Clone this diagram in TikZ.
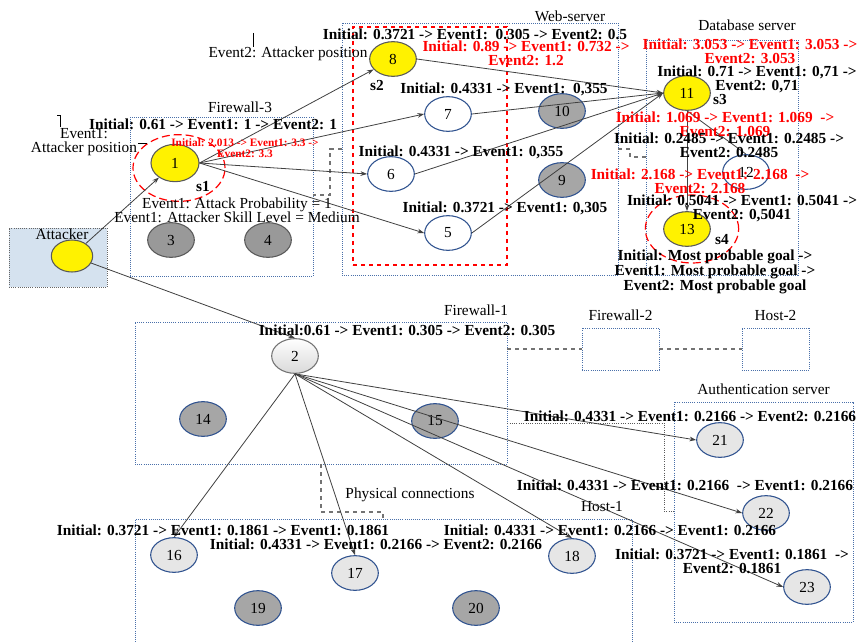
\documentclass[tikz,border=0pt]{standalone}
\usepackage{fontspec}
\setmainfont{Liberation Serif}
\usetikzlibrary{shapes,arrows.meta,fit,positioning}

\definecolor{boxblue}{HTML}{4A70AA}
\definecolor{nodeblue}{HTML}{2F528F}
\definecolor{hostgray}{HTML}{A6A6A6}
\definecolor{palegray}{HTML}{E6E6E6}
\definecolor{edgegray}{HTML}{404040}
\definecolor{attackerblue}{HTML}{D5E2EF}

\begin{document}
\begin{tikzpicture}[
	x=0.75pt, y=-0.75pt,
	>={Stealth[length=5pt,width=3.5pt]},
	basenode/.style={ellipse, inner sep=0pt, line width=0.8pt, minimum width=35pt, minimum height=26pt, font=\fontsize{11.5}{12}\selectfont},
	goalnode/.style={basenode, draw=black!65, fill=yellow},
	opennode/.style={basenode, draw=nodeblue, fill=white},
	darknode/.style={basenode, draw=nodeblue, fill=hostgray},
	idlenode/.style={basenode, draw=black!65, fill=black!40},
	lightnode/.style={basenode, draw=nodeblue, fill=palegray},
	gatenode/.style={basenode, draw=black!55, top color=white, bottom color=black!15},
	zonebox/.style={draw=boxblue, densely dotted, line width=0.6pt, inner sep=0pt},
	aimring/.style={ellipse, draw=red, dash pattern=on 6pt off 3pt, line width=0.9pt, inner sep=0pt},
	zonetitle/.style={inner sep=0pt, font=\fontsize{11.5}{12}\selectfont},
	notelabel/.style={inner sep=0pt, align=center, font=\fontsize{11.5}{10.5}\selectfont},
	problabel/.style={inner sep=0pt, align=center, font=\bfseries\fontsize{11.5}{10.5}\selectfont},
	redlabel/.style={problabel, text=red},
	tinyred/.style={inner sep=0pt, align=center, text=red, font=\bfseries\fontsize{8.5}{8}\selectfont},
	flow/.style={->, draw=edgegray, line width=0.6pt},
	physlink/.style={draw=black!55, dashed, line width=0.8pt},
	dotlink/.style={draw=black!65, densely dotted, line width=0.7pt},
	]
	\clip (0,0) rectangle (860,642);

	%Zones
	\node[zonebox, draw=black!60, fill=attackerblue, fit={(9,228) (107,287)}] (attbox) {};
	\node[zonebox, fit={(130,117) (313,276)}] (fw3) {};
	\node[zonebox, fit={(342,23) (618,275)}] (web) {};
	\node[draw=red, dashed, line width=0.8pt, inner sep=0pt, fit={(353,27) (507,265)}] (webcore) {};
	\node[zonebox, fit={(646,40) (798,275)}] (db) {};
	\node[zonebox, fit={(135,322) (507,464)}] (fw1) {};
	\node[zonebox, fit={(582,328) (659,370)}] (fw2) {};
	\node[zonebox, fit={(742,328) (809,370)}] (host2) {};
	\node[zonebox, fit={(674,402) (853,622)}] (auth) {};
	\node[zonebox, fit={(135,519) (632,670)}] (host1) {};

	%Zone titles
	\node[zonetitle] (atttitle) at (62,234) {Attacker};
	\node[zonetitle] (fw3title) at (240,107) {Firewall-3};
	\node[zonetitle] (webtitle) at (570,16) {Web-server};
	\node[zonetitle] (dbtitle) at (747,25) {Database server};
	\node[zonetitle] (fw1title) at (476,310) {Firewall-1};
	\node[zonetitle, above=5pt of fw2] (fw2title) {Firewall-2};
	\node[zonetitle, above=5pt of host2] (host2title) {Host-2};
	\node[zonetitle, above=5pt of auth] (authtitle) {Authentication server};
	\node[zonetitle] (host1title) at (602,507) {Host-1};
	\node[zonetitle] (physlab) at (410,495) {Physical connections};

	%Links between zones
	\coordinate (fwwebtop) at (330,149);
	\coordinate (fwwebbot) at (330,195);
	\draw[physlink] (web.west |- fwwebtop) -- (fwwebtop) -- (fwwebbot) -- (fw3.east |- fwwebbot);
	\coordinate (webdbtop) at (618,149);
	\coordinate (webdbbend) at (630,157);
	\draw[physlink] (webdbtop) -| (webdbbend) -- (db.west |- webdbbend);
	\draw[physlink] (fw2.west -| fw1.east) -- (fw2.west);
	\draw[physlink] (fw2.east) -- (host2.west);
	\coordinate (physbend) at (321,512);
	\coordinate (physdrop) at (383,519);
	\draw[physlink] (fw1.south -| physbend) -- (physbend) -| (physdrop);
	\coordinate (authtap) at (664,423);
	\coordinate (authin) at (674,511);
	\draw[dotlink] (fw1.east |- authtap) -- (authtap) |- (authin);

	%Rings
	\node[aimring, minimum width=69pt, minimum height=50pt] (ring1) at (179,168) {};
	\node[aimring, minimum width=70pt, minimum height=51pt] (ring13) at (692,229) {};

	%Nodes
	\node[goalnode, minimum width=31pt, minimum height=24pt] (att) at (72,256) {};
	\node[goalnode, minimum width=36pt, minimum height=28pt] (n1) at (175,163) {1};
	\node[idlenode] (n3) at (171,240) {3};
	\node[idlenode] (n4) at (268,240) {4};
	\node[goalnode] (n8) at (393,59) {8};
	\node[opennode] (n7) at (448,114) {7};
	\node[darknode] (n10) at (562,111) {10};
	\node[opennode] (n6) at (391,174) {6};
	\node[darknode] (n9) at (562,180) {9};
	\node[opennode] (n5) at (448,233) {5};
	\node[goalnode] (n11) at (687,93) {11};
	\node[opennode] (n12) at (746,172) {12};
	\node[goalnode] (n13) at (687,229) {13};
	\node[gatenode] (n2) at (295,356) {2};
	\node[darknode] (n14) at (203,419) {14};
	\node[darknode] (n15) at (435,421) {15};
	\node[lightnode] (n16) at (174,555) {16};
	\node[lightnode] (n17) at (355,573) {17};
	\node[lightnode] (n18) at (572,556) {18};
	\node[darknode] (n19) at (258,608) {19};
	\node[darknode] (n20) at (476,608) {20};
	\node[lightnode] (n21) at (720,440) {21};
	\node[lightnode] (n22) at (766,513) {22};
	\node[lightnode] (n23) at (807,587) {23};

	%Lines
	\draw[flow] (att) -- (n1);
	\draw[flow] (att) -- (n2.north);
	\draw[flow] (n1.east) -- (n8);
	\draw[flow] (n1.east) -- (n7.west);
	\draw[flow] (n1.east) -- (n6.west);
	\draw[flow] (n1.east) -- (n5.west);
	\draw[flow] (n8.east) -- (n11.west);
	\draw[flow] (n7.east) -- (n11.west);
	\draw[flow] (n6.east) -- (n11.west);
	\draw[flow] (n5.east) -- (n11.west);
	\draw[flow] (n11.south) -- (n13.north);
	\draw[draw=edgegray, line width=0.6pt] (n11.south) -- (n12.north);
	\draw[flow] (n2.south) -- (n16.north);
	\draw[flow] (n2.south) -- (n17.north);
	\draw[flow] (n2.south) -- (n18.north);
	\draw[flow] (n2.south) -- (n21.west);
	\draw[flow] (n2.south) -- (n22.west);
	\draw[flow] (n2.south) -- (n23.west);

	%Callout marks
	\draw[line width=0.6pt] (253,33) -- (253,47);
	\draw[line width=0.6pt] (57,115) -- (60,115) -- (60,127);
	\draw[line width=0.6pt] (138,143) -- (147,143);

	%Labels
	\node[notelabel] (evtwo) at (288,54) {Event2: Attacker position};
	\node[notelabel] (evone) at (84,142) {Event1:\\Attacker position};
	\node[problabel] (l1) at (213,124) {Initial: 0.61 -> Event1: 1 -> Event2: 1};
	\node[tinyred] (r1) at (245,148) {Initial: 2.013 -> Event1: 3.3 ->\\Event2: 3.3};
	\node[problabel] (s1) at (203,187) {s1};
	\node[notelabel] (skill) at (237,210) {Event1: Attack Probability = 1\\Event1: Attacker Skill Level = Medium};
	\node[problabel] (l8) at (475,34) {Initial: 0.3721 -> Event1:\ \ 0.305 -> Event2: 0.5};
	\node[redlabel] (r8) at (526,53) {Initial: 0.89 -> Event1: 0.732 ->\\Event2: 1.2};
	\node[problabel] (s2) at (377,85) {s2};
	\node[problabel] (l7) at (504,89) {Initial: 0.4331 -> Event1:\ \ 0,355};
	\node[problabel] (l6) at (461,152) {Initial: 0.4331 -> Event1: 0,355};
	\node[problabel] (l5) at (505,208) {Initial: 0.3721 -> Event1: 0,305};
	\node[redlabel] (r11) at (750,51) {Initial: 3.053 -> Event1: 3.053 ->\\Event2: 3.053};
	\node[problabel] (l11) at (757,79) {Initial: 0.71 -> Event1: 0,71 ->\\Event2: 0,71};
	\node[problabel] (s3) at (720,99) {s3};
	\node[redlabel] (r12) at (725,124) {Initial: 1.069 -> Event1: 1.069\ \ ->\\Event2: 1.069};
	\node[problabel] (l12) at (729,145) {Initial: 0.2485 -> Event1: 0.2485 ->\\Event2: 0.2485};
	\node[redlabel] (r13) at (700,181) {Initial: 2.168 -> Event1: 2.168\ \ ->\\Event2: 2.168};
	\node[problabel] (l13) at (742,208) {Initial: 0.5041 -> Event1: 0.5041 ->\\Event2: 0,5041};
	\node[problabel] (s4) at (722,240) {s4};
	\node[problabel] (goal) at (715,272) {Initial: Most probable goal ->\\Event1: Most probable goal ->\\Event2: Most probable goal};
	\node[problabel] (l2) at (407,330) {Initial:0.61 -> Event1: 0.305 -> Event2: 0.305};
	\node[problabel] (l21) at (690,416) {Initial: 0.4331 -> Event1: 0.2166 -> Event2: 0.2166};
	\node[problabel] (l22) at (685,485) {Initial: 0.4331 -> Event1: 0.2166\ \ -> Event1: 0.2166};
	\node[problabel] (l18) at (610,530) {Initial: 0.4331 -> Event1: 0.2166 -> Event1: 0.2166};
	\node[problabel] (l23) at (732,561) {Initial: 0.3721 -> Event1: 0.1861\ \ ->\\Event2: 0.1861};
	\node[problabel] (l16) at (223,530) {Initial: 0.3721 -> Event1: 0.1861 -> Event1: 0.1861};
	\node[problabel] (l17) at (376,544) {Initial: 0.4331 -> Event1: 0.2166 -> Event2: 0.2166};
\end{tikzpicture}
\end{document}
